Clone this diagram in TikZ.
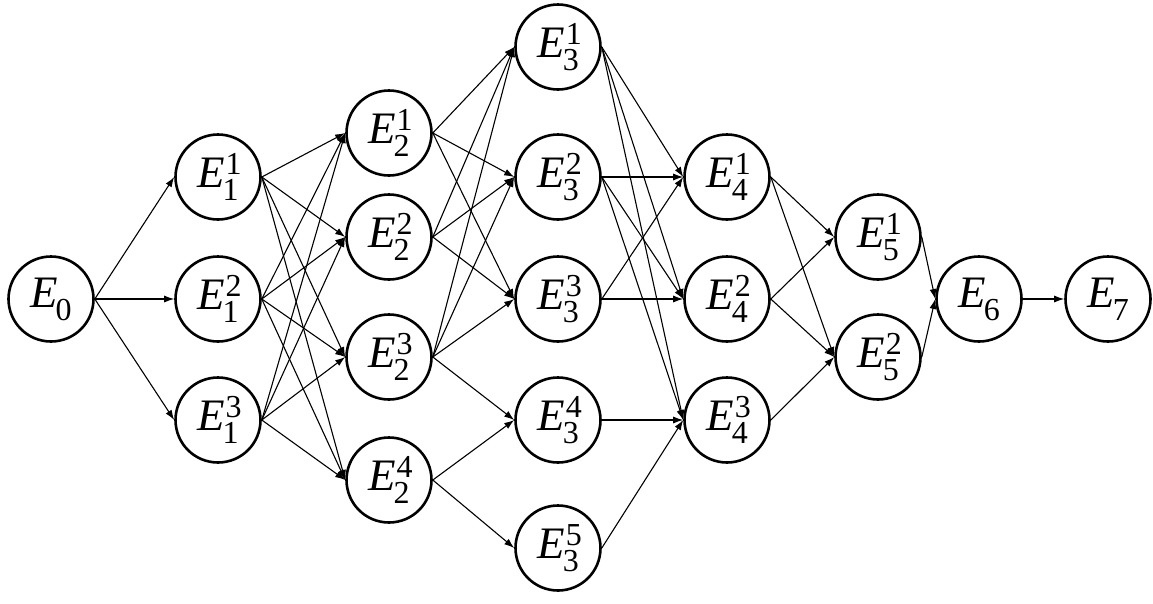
\documentclass[tikz,border=0pt]{standalone}
\usepackage{fontspec}
\setmainfont{Liberation Serif}
\usetikzlibrary{arrows.meta}
\newcommand\dig{\fontsize{32}{32}\selectfont}
\newcommand\Ev[2]{\itshape E\upshape\makebox[0pt][l]{\kern1pt\raisebox{13pt}{\dig #2}}\kern-2pt\raisebox{-13pt}{\dig #1}}
\newcommand\Es[1]{\itshape E\upshape\kern-2pt\raisebox{-13pt}{\dig #1}}
\tikzset{
  st/.style={circle, draw, line width=2.6pt, minimum size=85pt, inner sep=0pt,
    font=\rmfamily\fontsize{45}{45}\selectfont},
  ed/.style={line width=1.1pt, -{Latex[length=10pt,width=7pt]}}
}
\begin{document}
\begin{tikzpicture}[x=1pt,y=-1pt]
\useasboundingbox (0,0) rectangle (1153,603);
\node[st] (E0) at (51,299) {\Es{0}};
\node[st] (E1a) at (218,177) {\Ev{1}{1}};
\node[st] (E1b) at (218,299) {\Ev{1}{2}};
\node[st] (E1c) at (218,420) {\Ev{1}{3}};
\node[st] (E2a) at (389,133) {\Ev{2}{1}};
\node[st] (E2b) at (389,237) {\Ev{2}{2}};
\node[st] (E2c) at (389,357) {\Ev{2}{3}};
\node[st] (E2d) at (389,480) {\Ev{2}{4}};
\node[st] (E3a) at (558,47) {\Ev{3}{1}};
\node[st] (E3b) at (558,177) {\Ev{3}{2}};
\node[st] (E3c) at (558,299) {\Ev{3}{3}};
\node[st] (E3d) at (558,420) {\Ev{3}{4}};
\node[st] (E3e) at (558,548) {\Ev{3}{5}};
\node[st] (E4a) at (727,177) {\Ev{4}{1}};
\node[st] (E4b) at (727,299) {\Ev{4}{2}};
\node[st] (E4c) at (727,420) {\Ev{4}{3}};
\node[st] (E5a) at (878,237) {\Ev{5}{1}};
\node[st] (E5b) at (878,357) {\Ev{5}{2}};
\node[st] (E6) at (979,299) {\Es{6}};
\node[st] (E7) at (1108,299) {\Es{7}};
\foreach \t in {E1a,E1b,E1c} \draw[ed] (E0.east) -- (\t.west);
\foreach \s in {E1a,E1b,E1c} \foreach \t in {E2a,E2b,E2c,E2d} \draw[ed] (\s.east) -- (\t.west);
\foreach \s/\t in {E2a/E3a,E2a/E3b,E2a/E3c,E2b/E3a,E2b/E3b,E2b/E3c,E2c/E3a,E2c/E3b,E2c/E3c,E2c/E3d,E2d/E3d,E2d/E3e,
  E3a/E4a,E3a/E4b,E3a/E4c,E3b/E4a,E3b/E4b,E3b/E4c,E3c/E4a,E3c/E4b,E3d/E4c,E3e/E4c,
  E4a/E5a,E4a/E5b,E4b/E5a,E4b/E5b,E4c/E5b,E5a/E6,E5b/E6,E6/E7}
  \draw[ed] (\s.east) -- (\t.west);
\end{tikzpicture}
\end{document}
